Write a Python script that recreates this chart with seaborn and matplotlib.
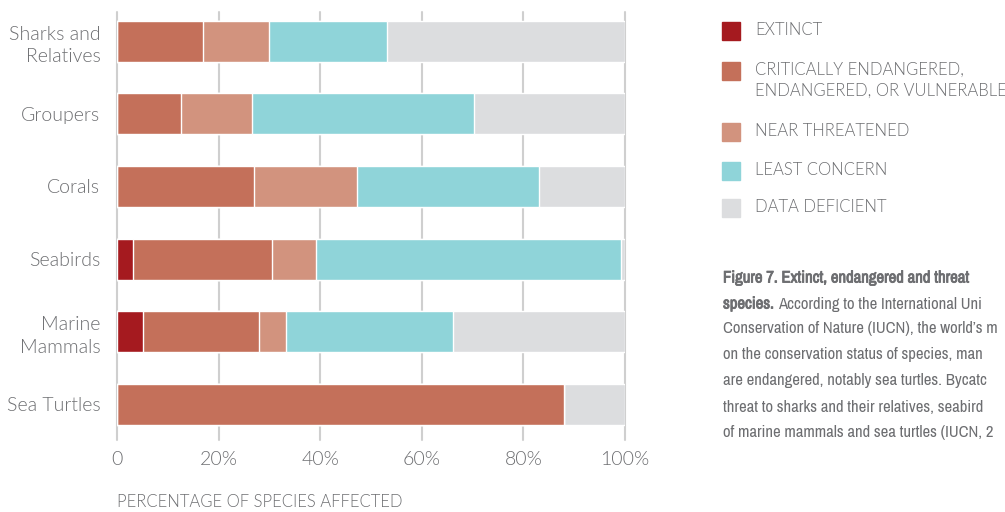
import pandas as pd
import matplotlib.pyplot as plt
import matplotlib.patheffects as pe
import seaborn as sns
from matplotlib import font_manager

# Data (percent of species)
groups = ['Sharks and\nRelatives', 'Groupers', 'Corals', 'Seabirds', 'Marine\nMammals', 'Sea Turtles']
extinct = [0, 0, 0, 3.1, 5.2, 0]
critical = [17.0, 12.5, 27.0, 27.5, 22.8, 88.0]
near_threatened = [13.0, 14.0, 20.2, 8.5, 5.2, 0]
least_concern = [23.1, 43.7, 35.8, 60.1, 32.9, 0]
data_deficient = [100 - e - c - n - l for e, c, n, l in
                  zip(extinct, critical, near_threatened, least_concern)]

legend_labels = ['EXTINCT', 'CRITICALLY ENDANGERED,\nENDANGERED, OR VULNERABLE',
                 'NEAR THREATENED', 'LEAST CONCERN', 'DATA DEFICIENT']
colors = ['#A51A1F', '#C4705A', '#D2937E', '#8FD4D9', '#DCDDDF']
text_color = '#6D6E71'

df = pd.DataFrame({'group': groups, 'extinct': extinct, 'critical': critical,
                   'near': near_threatened, 'least': least_concern,
                   'deficient': data_deficient})
cols = ['extinct', 'critical', 'near', 'least', 'deficient']
cum = df[cols].cumsum(axis=1)
cum['group'] = df['group']

sns.set_style('white')
plt.rcParams['font.family'] = ['Lato', 'DejaVu Sans']

fig = plt.figure(figsize=(10.05, 5.12), dpi=100)
ax = fig.add_axes([117 / 1005, 1 - 440 / 512, (625 - 117) / 1005, (440 - 12) / 512])

# stacked bars: draw from the total down so each segment shows
for col, color in reversed(list(zip(cols, colors))):
    sns.barplot(data=cum, x=col, y='group', color=color, width=0.565,
                orient='h', ax=ax, saturation=1, zorder=3)

ax.set_xlim(0, 100)
ax.set_ylim(5.49, -0.40)
ax.set_xticks([0, 20, 40, 60, 80, 100])
ax.set_xticklabels(['0', '20%', '40%', '60%', '80%', '100%'])
ax.xaxis.grid(True, color='#CFCFCF', linewidth=1.5, zorder=0)
for line in ax.get_xgridlines():
    line.set_clip_on(False)
ax.yaxis.grid(False)
for s in ax.spines.values():
    s.set_visible(False)
ax.tick_params(axis='both', length=0, labelsize=14, colors=text_color)
ax.tick_params(axis='x', pad=8)
ax.tick_params(axis='y', pad=12)
for t in ax.get_xticklabels() + ax.get_yticklabels():
    t.set_fontweight(300)
    t.set_linespacing(1.4)
ax.set_xlabel('')
ax.set_ylabel('')

fig.text(117 / 1005, 1 - 502 / 512, 'PERCENTAGE OF SPECIES AFFECTED', fontsize=12,
         color=text_color, fontweight=300, va='center', ha='left')

# legend drawn by hand on the right
leg_y = [31, 71, 132, 171, 208]
for lab, color, y in zip(legend_labels, colors, leg_y):
    fig.patches.append(plt.Rectangle((722 / 1005, 1 - (y + 9) / 512), 18 / 1005, 18 / 512,
                                     transform=fig.transFigure, color=color))
    fig.text(755 / 1005, 1 - (y - 9) / 512, lab, fontsize=12, color=text_color,
             fontweight=300, va='top', ha='left', linespacing=1.35)

# caption font: a condensed face if one is installed
cap_family = 'Roboto'
for f in font_manager.fontManager.ttflist:
    if 'Condensed' in f.name or 'Narrow' in f.name:
        cap_family = f.name
        break
bold_fx = [pe.withStroke(linewidth=0.6, foreground=text_color)]

# caption, cut at the right edge as in the original
cap_x = 723
cap_lines = [
    'Conservation of Nature (IUCN), the world\u2019s m',
    'on the conservation status of species, man',
    'are endangered, notably sea turtles. Bycatc',
    'threat to sharks and their relatives, seabird',
    'of marine mammals and sea turtles (IUCN, 2',
]
cap_texts = []
cap_texts.append(fig.text(cap_x / 1005, 1 - 278 / 512, 'Figure 7. Extinct, endangered and threat',
                          color=text_color, fontweight='bold', va='center', ha='left',
                          path_effects=bold_fx))
t1 = fig.text(cap_x / 1005, 1 - 304 / 512, 'species.', color=text_color,
              fontweight='bold', va='center', ha='left', path_effects=bold_fx)
t2 = fig.text(cap_x / 1005, 1 - 304 / 512, 'According to the International Uni',
              color=text_color, va='center', ha='left')
for i, line in enumerate(cap_lines):
    cap_texts.append(fig.text(cap_x / 1005, 1 - (329 + i * 26) / 512, line, color=text_color,
                              va='center', ha='left'))

# pick a size so the caption lines fit in the space left on the right
for t in cap_texts + [t1, t2]:
    t.set_family(cap_family)
    t.set_fontsize(11)
fig.canvas.draw()
widest = max(t.get_window_extent().width for t in cap_texts)
size = min(12, 11 * 279 / widest)
for t in cap_texts + [t1, t2]:
    t.set_fontsize(size)
fig.canvas.draw()
bb = t1.get_window_extent()
t2.set_x((bb.x1 + 4) / 1005)
fig.canvas.draw()
while t2.get_window_extent().x1 > 1002:
    t2.set_text(t2.get_text()[:-1])
    fig.canvas.draw()

plt.savefig('out.png', dpi=100)
plt.close()
